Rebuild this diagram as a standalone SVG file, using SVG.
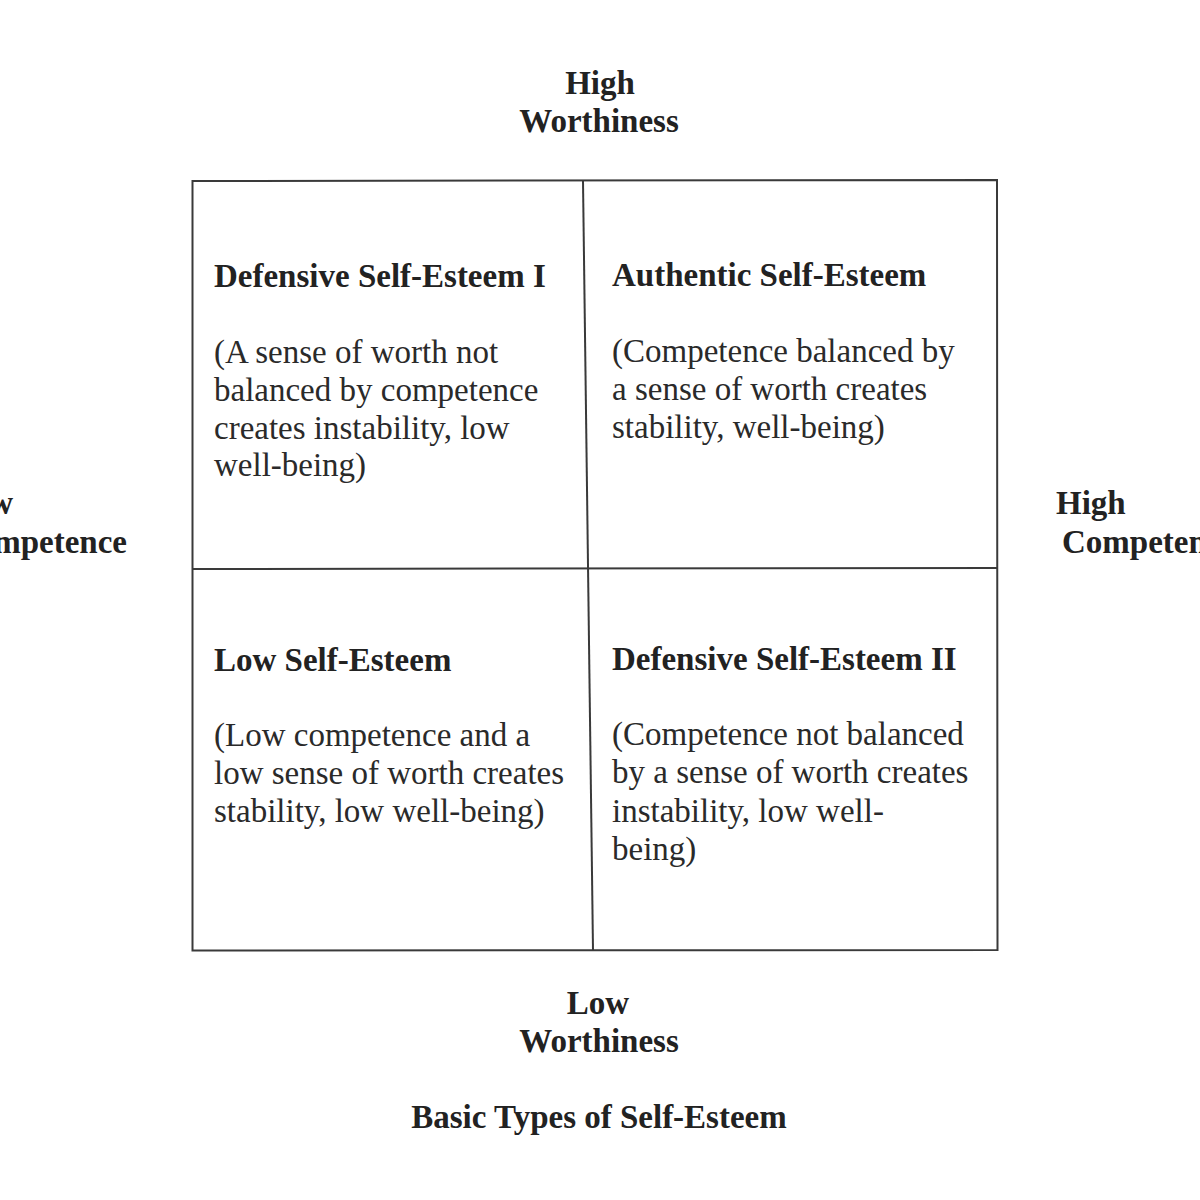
<svg xmlns="http://www.w3.org/2000/svg" width="1200" height="1200" viewBox="0 0 1200 1200">
<style>
.b{font-family:"Liberation Serif","Times New Roman",serif;font-size:33px;font-weight:bold;fill:#222}
.r{font-family:"Liberation Serif","Times New Roman",serif;font-size:33px;fill:#2a2a2a}
.c{text-anchor:middle}
.ln{stroke:#3a3a3a;stroke-width:2;fill:none}
</style>
<rect width="1200" height="1200" fill="#ffffff"/>
<g id="grid">
<path class="ln" d="M192.5,181 L997,180 L997.5,950 L192.5,950.5 Z"/>
<line class="ln" x1="583" y1="181" x2="593" y2="950"/>
<line class="ln" x1="192.5" y1="569" x2="997" y2="568"/>
</g>
<g id="axis-top">
<text class="b c" x="600" y="94">High</text>
<text class="b c" x="599" y="132">Worthiness</text>
</g>
<g id="axis-bottom">
<text class="b c" x="598" y="1014">Low</text>
<text class="b c" x="599" y="1052">Worthiness</text>
</g>
<g id="axis-left">
<text class="b" x="13" y="514" text-anchor="end">w</text>
<text class="b" x="127" y="553" text-anchor="end">mpetence</text>
</g>
<g id="axis-right">
<text class="b" x="1056" y="514">High</text>
<text class="b" x="1062" y="553">Competen</text>
</g>
<g id="cell-defensive-1">
<text class="b" x="214" y="287">Defensive Self-Esteem I</text>
<text class="r" x="214" y="363">(A sense of worth not</text>
<text class="r" x="214" y="401">balanced by competence</text>
<text class="r" x="214" y="439">creates instability, low</text>
<text class="r" x="214" y="476">well-being)</text>
</g>
<g id="cell-authentic">
<text class="b" x="612" y="286">Authentic Self-Esteem</text>
<text class="r" x="612" y="362">(Competence balanced by</text>
<text class="r" x="612" y="400">a sense of worth creates</text>
<text class="r" x="612" y="438">stability, well-being)</text>
</g>
<g id="cell-low">
<text class="b" x="214" y="671">Low Self-Esteem</text>
<text class="r" x="214" y="746">(Low competence and a</text>
<text class="r" x="214" y="784">low sense of worth creates</text>
<text class="r" x="214" y="822">stability, low well-being)</text>
</g>
<g id="cell-defensive-2">
<text class="b" x="612" y="670">Defensive Self-Esteem II</text>
<text class="r" x="612" y="745">(Competence not balanced</text>
<text class="r" x="612" y="783">by a sense of worth creates</text>
<text class="r" x="612" y="822">instability, low well-</text>
<text class="r" x="612" y="860">being)</text>
</g>
<g id="caption">
<text class="b c" x="599" y="1128">Basic Types of Self-Esteem</text>
</g>
</svg>
